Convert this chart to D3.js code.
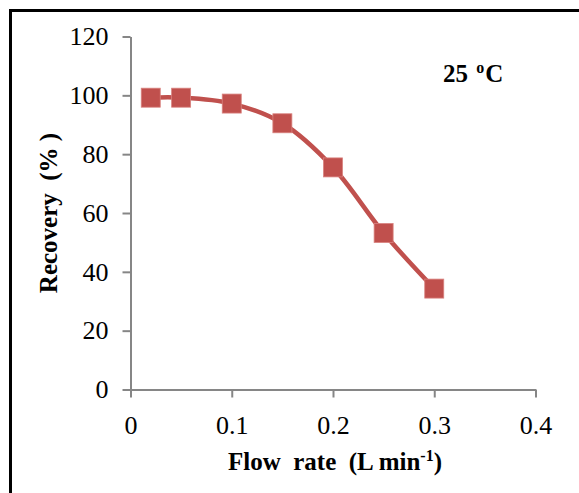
<!DOCTYPE html>
<html>
<head>
<meta charset="utf-8">
<script src="https://cdn.jsdelivr.net/npm/d3@7"></script>
<style>
  html, body { margin: 0; padding: 0; background: #fff; }
  svg { display: block; }
</style>
</head>
<body>
<svg id="chart" width="579" height="493"></svg>
<script>
const flowRate = [0.02, 0.05, 0.1, 0.15, 0.2, 0.25, 0.3];
const recovery = [99.2, 99.2, 97.2, 90.5, 75.5, 53.2, 34.3];
const xTicks = [0, 0.1, 0.2, 0.3, 0.4];
const yTicks = [0, 20, 40, 60, 80, 100, 120];

const svg = d3.select("#chart");
const m = { left: 130.5, right: 535.5, top: 36.5, bottom: 389.5 };

// outer frame (extends beyond right/bottom edges)
svg.append("rect")
  .attr("x", 10.5).attr("y", 10.5)
  .attr("width", 700).attr("height", 700)
  .attr("fill", "none").attr("stroke", "#000").attr("stroke-width", 3);

const x = d3.scaleLinear().domain([0, 0.4]).range([m.left, m.right]);
const y = d3.scaleLinear().domain([0, 120]).range([m.bottom, m.top]);

const axisColor = "#868686";
const serif = "'Liberation Serif', 'Times New Roman', serif";

const gy = svg.append("g")
  .attr("transform", `translate(${m.left},0)`)
  .call(d3.axisLeft(y).tickValues(yTicks).tickSize(8).tickSizeOuter(0).tickPadding(14)
    .tickFormat(d3.format("d")));
const gx = svg.append("g")
  .attr("transform", `translate(0,${m.bottom})`)
  .call(d3.axisBottom(x).tickValues(xTicks).tickSize(8).tickSizeOuter(0).tickPadding(18)
    .tickFormat(d => d === 0 ? "0" : d3.format(".1f")(d)));

[gx, gy].forEach(g => {
  g.select(".domain").attr("stroke", axisColor).attr("stroke-width", 2);
  g.selectAll(".tick line").attr("stroke", axisColor).attr("stroke-width", 2);
  g.selectAll(".tick text")
    .attr("fill", "#000")
    .style("font-family", serif)
    .style("font-size", "26px");
});

const pts = flowRate.map((v, i) => [v, recovery[i]]);
const color = "#C0504D";

const line = d3.line()
  .x(d => x(d[0]))
  .y(d => y(d[1]))
  .curve(d3.curveCatmullRom.alpha(0.5));

svg.append("path")
  .datum(pts)
  .attr("d", line)
  .attr("fill", "none")
  .attr("stroke", color)
  .attr("stroke-width", 4.5)
  .attr("stroke-linejoin", "round");

const ms = 19;
svg.append("g").selectAll("rect")
  .data(pts)
  .join("rect")
  .attr("x", d => x(d[0]) - ms / 2)
  .attr("y", d => y(d[1]) - ms / 2)
  .attr("width", ms)
  .attr("height", ms)
  .attr("fill", color)
  .attr("stroke", "#d9827f")
  .attr("stroke-width", 0.8);

// Axis titles
const xt = svg.append("text")
  .attr("x", 335).attr("y", 470)
  .attr("text-anchor", "middle")
  .style("font-family", serif)
  .style("font-weight", "bold")
  .style("font-size", "25px")
  .attr("xml:space", "preserve");
xt.append("tspan").text("Flow  rate  (L min");
xt.append("tspan").attr("dy", -9).style("font-size", "16px").text("-1");
xt.append("tspan").attr("dy", 9).text(")");

svg.append("text")
  .attr("transform", "translate(57,213) rotate(-90)")
  .attr("text-anchor", "middle")
  .style("font-family", serif)
  .style("font-weight", "bold")
  .style("font-size", "25px")
  .attr("xml:space", "preserve")
  .text("Recovery  (% )");

// Annotation
const ann = svg.append("text")
  .attr("x", 443).attr("y", 82)
  .style("font-family", serif)
  .style("font-weight", "bold")
  .style("font-size", "25px")
  .attr("xml:space", "preserve");
ann.append("tspan").text("25 ");
ann.append("tspan").attr("dy", -9).attr("dx", 2).style("font-size", "16px").text("o");
ann.append("tspan").attr("dy", 9).attr("dx", 1).text("C");
</script>
</body>
</html>
